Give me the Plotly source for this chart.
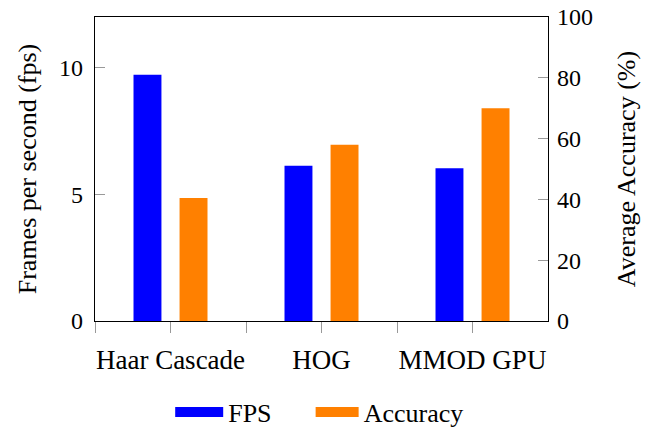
import plotly.graph_objects as go

categories = ["Haar Cascade", "HOG", "MMOD GPU"]
fps = [9.72, 6.13, 6.03]
accuracy = [40.5, 58.0, 70.0]
series_names = ["FPS", "Accuracy"]
series_colors = ["#0000ff", "#ff8000"]

positions = list(range(len(categories)))
boundaries = [p - 0.5 for p in positions]

FONT = "Liberation Serif, Times New Roman, serif"

fig = go.Figure()
fig.add_trace(go.Bar(x=positions, y=fps, name=series_names[0], yaxis="y",
                     width=0.185, offset=-0.245,
                     marker=dict(color=series_colors[0], line=dict(width=0)),
                     showlegend=False))
fig.add_trace(go.Bar(x=positions, y=accuracy, name=series_names[1], yaxis="y2",
                     width=0.185, offset=0.06,
                     marker=dict(color=series_colors[1], line=dict(width=0)),
                     showlegend=False))
# legend entries (wide swatches like the original), one legend box each
for nm, col, lg in zip(series_names, series_colors, ["legend", "legend2"]):
    fig.add_trace(go.Scatter(x=[None], y=[None], mode="lines", name=nm, legend=lg,
                             line=dict(color=col, width=16), hoverinfo="skip"))

legend_common = dict(orientation="h", y=-0.30, yanchor="middle", xanchor="left",
                     font=dict(size=26, family=FONT), bgcolor="rgba(0,0,0,0)")

fig.update_layout(
    width=652, height=429,
    margin=dict(l=95, r=104, t=17, b=108, autoexpand=False),
    paper_bgcolor="white", plot_bgcolor="white",
    font=dict(family=FONT, color="black", size=24),
    barmode="overlay",
    showlegend=True,
    legend=dict(x=0.166, itemwidth=48, **legend_common),
    legend2=dict(x=0.476, itemwidth=43, **legend_common),
    xaxis=dict(range=[-0.5, len(categories) - 0.5], tickmode="array",
               tickvals=positions, ticktext=categories,
               ticks="outside", ticklen=11, tickcolor="#999999", tickwidth=1,
               minor=dict(tickmode="array", tickvals=boundaries, ticks="outside",
                          ticklen=11, tickcolor="#999999", tickwidth=1, showgrid=False),
               tickfont=dict(size=27, family=FONT), ticklabelstandoff=3,
               showline=True, linecolor="black", linewidth=1.3, mirror=True,
               showgrid=False, zeroline=False, fixedrange=True, automargin=False),
    yaxis=dict(range=[0, 12], tickmode="array", tickvals=[0, 5, 10],
               ticks="inside", ticklen=10, tickcolor="#999999", tickwidth=1,
               tickfont=dict(size=24, family=FONT), ticklabelstandoff=6,
               title=dict(text="Frames per second (fps)", font=dict(size=26, family=FONT), standoff=14),
               showline=True, linecolor="black", linewidth=1.3,
               showgrid=False, zeroline=False, automargin=False, fixedrange=True),
    yaxis2=dict(range=[0, 100], overlaying="y", side="right", tickmode="array",
                tickvals=[0, 20, 40, 60, 80, 100],
                ticks="inside", ticklen=10, tickcolor="#999999", tickwidth=1,
                tickfont=dict(size=24, family=FONT), ticklabelstandoff=3,
                title=dict(text="Average Accuracy (%)", font=dict(size=26, family=FONT), standoff=24),
                showline=True, linecolor="black", linewidth=1.3,
                showgrid=False, zeroline=False, automargin=False, fixedrange=True),
)

fig.write_html("out.html", config={"displayModeBar": False},
               post_script="document.body.style.margin='0';document.body.style.padding='0';")
